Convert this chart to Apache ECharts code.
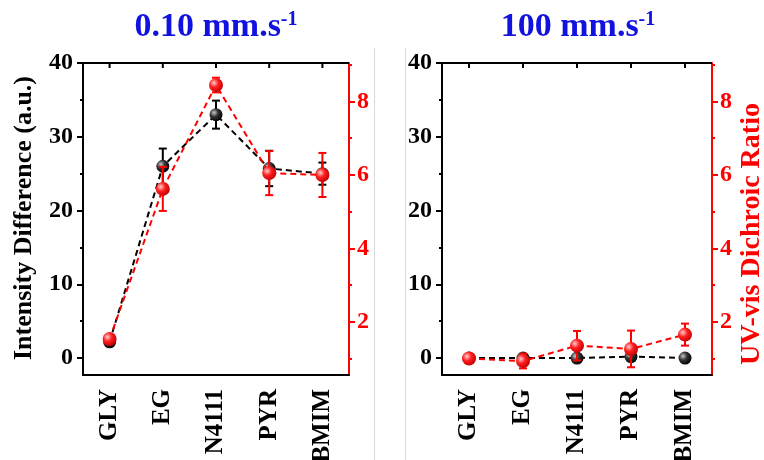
<!DOCTYPE html>
<html>
<head>
<meta charset="utf-8">
<script src="https://cdn.jsdelivr.net/npm/echarts@6/dist/echarts.min.js"></script>
<style>
  html, body { margin: 0; padding: 0; background: #fff; }
  #chart { width: 764px; height: 460px; }
</style>
</head>
<body>
<div id="chart"></div>
<script>
// 类目
const categories = ['GLY', 'EG', 'N4111', 'PYR', 'BMIM'];

// 0.10 mm/s 面板
const slowIntensity = [2.2, 26.0, 33.0, 25.7, 25.0];
const slowIntensityErr = [0.5, 2.4, 1.9, 2.4, 1.5];
const slowRatio = [1.53, 5.62, 8.45, 6.05, 6.0];
const slowRatioErr = [0.1, 0.6, 0.2, 0.6, 0.6];

// 100 mm/s 面板
const fastIntensity = [0, 0, 0, 0.2, 0];
const fastIntensityErr = [0.2, 0.3, 0.2, 0.3, 0.2];
const fastRatio = [1.0, 0.93, 1.35, 1.26, 1.65];
const fastRatioErr = [0.05, 0.2, 0.4, 0.5, 0.3];

// 刻度
const intensityTicks = [0, 10, 20, 30, 40];
const intensityMinor = [5, 15, 25, 35];
const ratioTicks = [2, 4, 6, 8];
const ratioMinor = [1, 3, 5, 7, 9];

const FONT = 'Liberation Serif';
const RED = '#ff0000';
const BLACK = '#000000';

const chart = echarts.init(document.getElementById('chart'));

const ballColor = (c0, c1, c2) => ({
  type: 'radial', x: 0.35, y: 0.35, r: 0.7,
  colorStops: [
    { offset: 0, color: c0 },
    { offset: 0.45, color: c1 },
    { offset: 1, color: c2 }
  ]
});

const labelStyle = (color, size) => ({
  color: color, fontFamily: FONT, fontWeight: 'bold', fontSize: size || 25
});

/**
 * 误差棒
 */
const errorBarItem = (color) => (params, api) => {
  const i = api.value(0);
  const lo = api.coord([i, api.value(1)]);
  const hi = api.coord([i, api.value(2)]);
  const half = 4;
  const style = { stroke: color, lineWidth: 2 };
  return {
    type: 'group',
    children: [
      { type: 'line', shape: { x1: lo[0], y1: lo[1], x2: hi[0], y2: hi[1] }, style },
      { type: 'line', shape: { x1: hi[0] - half, y1: hi[1], x2: hi[0] + half, y2: hi[1] }, style },
      { type: 'line', shape: { x1: lo[0] - half, y1: lo[1], x2: lo[0] + half, y2: lo[1] }, style }
    ]
  };
};

const errData = (vals, errs) => vals.map((v, i) => [i, v - errs[i], v + errs[i]]);

const grids = [
  { left: 83, top: 63, width: 266, height: 312, outerBoundsMode: 'none' },
  { left: 442, top: 63, width: 270, height: 312, outerBoundsMode: 'none' }
];

const xAxes = [];
const yAxes = [];
const series = [];
const panelAxes = [];

const panels = [
  { intensity: slowIntensity, intensityErr: slowIntensityErr, ratio: slowRatio, ratioErr: slowRatioErr },
  { intensity: fastIntensity, intensityErr: fastIntensityErr, ratio: fastRatio, ratioErr: fastRatioErr }
];

panels.forEach((p, g) => {
  const xb = xAxes.length;
  xAxes.push({
    type: 'category', gridIndex: g, data: categories, position: 'bottom', boundaryGap: true,
    axisLine: { onZero: false, lineStyle: { color: BLACK, width: 2 } },
    axisTick: { alignWithLabel: true, length: 6, lineStyle: { color: BLACK, width: 2 } },
    axisLabel: { ...labelStyle(BLACK), rotate: 90, margin: 14 },
    splitLine: { show: false }
  });

  const yl = yAxes.length;
  yAxes.push({
    type: 'value', gridIndex: g, position: 'left', min: -2.3, max: 40,
    axisLine: { show: true, onZero: false, lineStyle: { color: BLACK, width: 2 } },
    axisTick: { show: true, length: 6, customValues: intensityTicks, lineStyle: { color: BLACK, width: 2 } },
    axisLabel: { ...labelStyle(BLACK, 24), margin: 10, customValues: intensityTicks },
    splitLine: { show: false }
  });
  yAxes.push({
    type: 'value', gridIndex: g, position: 'left', min: -2.3, max: 40,
    axisLine: { show: false },
    axisTick: { show: true, length: 3, customValues: intensityMinor, lineStyle: { color: BLACK, width: 2 } },
    axisLabel: { show: false },
    splitLine: { show: false }
  });
  const yr = yAxes.length;
  yAxes.push({
    type: 'value', gridIndex: g, position: 'right', min: 0.55, max: 9.05,
    axisLine: { show: true, onZero: false, lineStyle: { color: RED, width: 2 } },
    axisTick: { show: true, length: 6, customValues: ratioTicks, lineStyle: { color: RED, width: 2 } },
    axisLabel: { ...labelStyle(RED, 24), margin: 8, customValues: ratioTicks },
    splitLine: { show: false }
  });
  yAxes.push({
    type: 'value', gridIndex: g, position: 'right', min: 0.55, max: 9.05,
    axisLine: { show: false },
    axisTick: { show: true, length: 3, customValues: ratioMinor, lineStyle: { color: RED, width: 2 } },
    axisLabel: { show: false },
    splitLine: { show: false }
  });
  panelAxes.push({ xb, yl });

  series.push({
    type: 'custom', xAxisIndex: xb, yAxisIndex: yl, z: 1,
    renderItem: errorBarItem(BLACK), data: errData(p.intensity, p.intensityErr)
  });
  series.push({
    type: 'line', xAxisIndex: xb, yAxisIndex: yl, z: 2, data: p.intensity,
    symbol: 'circle', symbolSize: 13,
    lineStyle: { color: BLACK, width: 2, type: [6, 4] },
    itemStyle: { color: ballColor('#c8c8c8', '#333333', '#000000') }
  });
  series.push({
    type: 'custom', xAxisIndex: xb, yAxisIndex: yr, z: 3,
    renderItem: errorBarItem(RED), data: errData(p.ratio, p.ratioErr)
  });
  series.push({
    type: 'line', xAxisIndex: xb, yAxisIndex: yr, z: 4, data: p.ratio,
    symbol: 'circle', symbolSize: 14,
    lineStyle: { color: RED, width: 2, type: [6, 4] },
    itemStyle: { color: ballColor('#ffd0d0', '#ff2020', '#c00000') }
  });
});

const titleText = (main, x) => ({
  type: 'text', x: x, y: 27,
  style: {
    text: '{a|' + main + '}{b|-1}',
    align: 'center', verticalAlign: 'middle',
    rich: {
      a: { fontFamily: FONT, fontWeight: 'bold', fontSize: 34, fill: '#1212e0' },
      b: { fontFamily: FONT, fontWeight: 'bold', fontSize: 20, fill: '#1212e0', verticalAlign: 'top' }
    }
  }
});

const graphics = [
  titleText('0.10 mm.s', 216),
  titleText('100 mm.s', 578),
  {
    type: 'text', x: 24, y: 218, rotation: Math.PI / 2,
    style: { text: 'Intensity Difference (a.u.)', ...labelStyle(BLACK, 26), fill: BLACK, align: 'center', verticalAlign: 'middle' }
  },
  {
    type: 'text', x: 752, y: 234, rotation: Math.PI / 2,
    style: { text: 'UV-vis Dichroic Ratio', ...labelStyle(RED, 28), fill: RED, align: 'center', verticalAlign: 'middle' }
  },
  { type: 'line', shape: { x1: 374.5, y1: 48, x2: 374.5, y2: 460 }, style: { stroke: '#d8d8d8', lineWidth: 1 } },
  { type: 'line', shape: { x1: 405.5, y1: 48, x2: 405.5, y2: 460 }, style: { stroke: '#d8d8d8', lineWidth: 1 } }
];

// 顶部边框（绘图区上沿）
grids.forEach((gr) => {
  graphics.push({
    type: 'rect', z: 100,
    shape: { x: gr.left - 1, y: gr.top - 1, width: gr.width + 1, height: 2 },
    style: { fill: BLACK }
  });
});

chart.setOption({
  animation: false,
  grid: grids,
  xAxis: xAxes,
  yAxis: yAxes,
  series: series,
  graphic: { elements: graphics }
});

// 顶部镜像刻度，位置由类目轴换算
const ticks = [];
panelAxes.forEach(({ xb }, g) => {
  categories.forEach((c, i) => {
    const px = chart.convertToPixel({ xAxisIndex: xb }, c);
    if (typeof px === 'number' && isFinite(px)) {
      ticks.push({
        type: 'rect', z: 100,
        shape: { x: px - 1, y: grids[g].top, width: 2, height: 5 },
        style: { fill: BLACK }
      });
    }
  });
});
chart.setOption({ graphic: { elements: graphics.concat(ticks) } });
</script>
</body>
</html>
